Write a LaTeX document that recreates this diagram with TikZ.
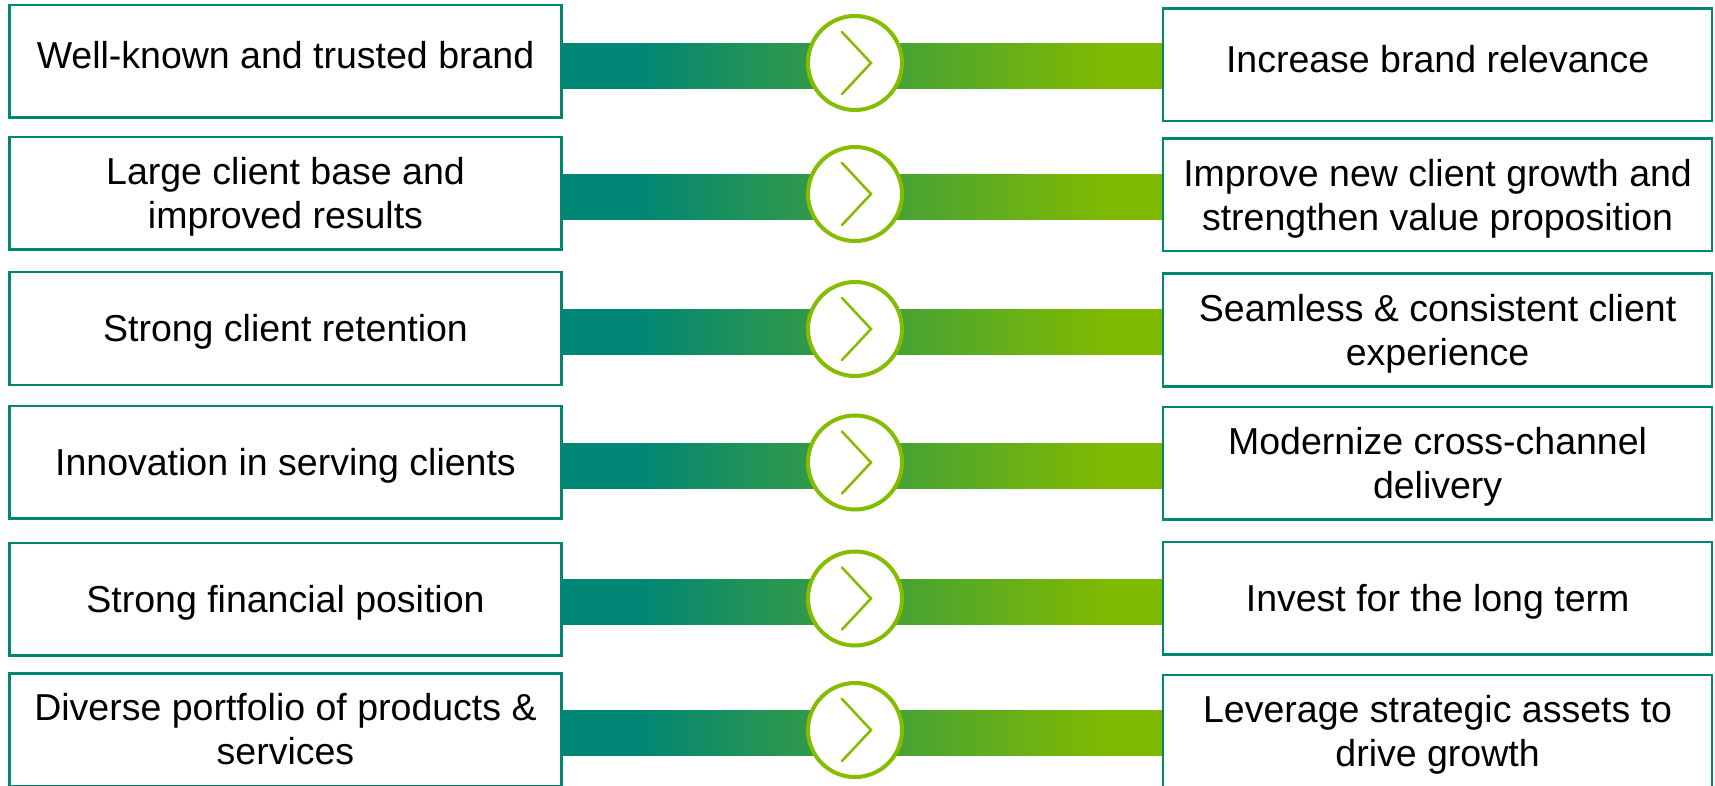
\documentclass[tikz,border=0pt]{standalone}
\usepackage{fontspec}
\setmainfont{Liberation Sans}
\usetikzlibrary{backgrounds}
\definecolor{tealc}{RGB}{0,135,113}
\definecolor{barteal}{RGB}{0,134,117}
\definecolor{greenc}{RGB}{128,186,0}
\definecolor{ringc}{RGB}{132,189,0}
\pgfdeclarehorizontalshading{barshade}{100bp}{color(0bp)=(barteal); color(31bp)=(barteal); color(70.5bp)=(greenc); color(100bp)=(greenc)}
\tikzset{
  lbox/.style={draw=tealc, line width=2.5pt, fill=white, minimum width=552pt, minimum height=112.5pt, inner sep=0pt},
  rbox/.style={draw=tealc, line width=2.5pt, fill=white, minimum width=549pt, minimum height=112.5pt, inner sep=0pt},
  boxtext/.style={font=\fontsize{37.5}{44}\selectfont, align=center, text=black, inner sep=0pt, anchor=north},
  ring/.style={circle, draw=ringc, line width=4pt, fill=white, minimum size=94pt, inner sep=0pt},
  chev/.style={draw=ringc, line width=2.5pt, line cap=round, line join=miter},
  bar/.style={shading=barshade}
}
\begin{document}
\begin{tikzpicture}[x=1pt,y=-1pt]
\useasboundingbox (0,0) rectangle (1715,786);
\begin{pgfonlayer}{background}
\fill[white] (0,0) rectangle (1715,786);
\end{pgfonlayer}
\foreach \i/\yl/\yr/\yc/\sl/\sr/\tl/\tr in {
  1/61.5/65/63/21/21/{Well-known and trusted brand}/{Increase brand relevance},
  2/193.5/195/194/37/37/{Large client base and\\improved results}/{Improve new client growth and\\strengthen value proposition},
  3/328.5/330/329/15/37/{Strong client retention}/{Seamless \& consistent client\\experience},
  4/462/463/462.5/15/37/{Innovation in serving clients}/{Modernize cross-channel\\delivery},
  5/599/598/598.5/15/15/{Strong financial position}/{Invest for the long term},
  6/729.5/731/730/37/37/{Diverse portfolio of products \&\\services}/{Leverage strategic assets to\\drive growth}}{
  \node[lbox] (L\i) at (285.5,\yl) {};
  \node[rbox] (R\i) at (1437.6,\yr) {};
  \node[boxtext] (Lt\i) at ([yshift=\sl pt]L\i.center) {\rule{0pt}{28pt}\tl};
  \node[boxtext] (Rt\i) at ([yshift=\sr pt]R\i.center) {\rule{0pt}{28pt}\tr};
  \node[ring] (C\i) at (855,\yc) {};
  \draw[chev] ([shift={(-13,-31)}]C\i.center) -- ([shift={(16,0)}]C\i.center) -- ([shift={(-13,31)}]C\i.center);
  \pgfmathsetmacro\ya{\yc+3-22.5}
  \pgfmathsetmacro\yb{\yc+3+22.5}
  \begin{pgfonlayer}{background}
    \path[bar] (L\i.east |- 0,\ya) rectangle (R\i.west |- 0,\yb);
  \end{pgfonlayer}
}
\end{tikzpicture}
\end{document}
